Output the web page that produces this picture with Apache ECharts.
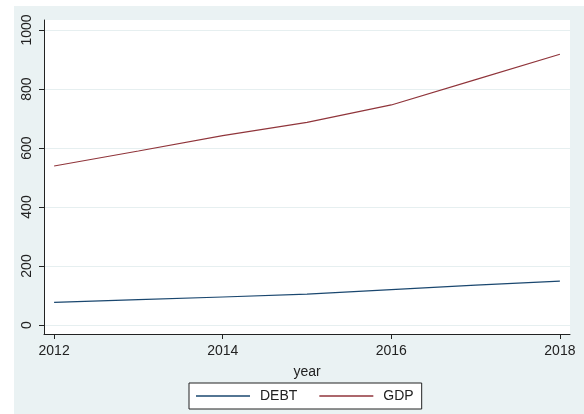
<!DOCTYPE html>
<html>
<head>
<meta charset="utf-8">
<script src="https://cdn.jsdelivr.net/npm/echarts@6/dist/echarts.min.js"></script>
<style>
html,body{margin:0;padding:0;background:#fff;width:584px;height:414px;overflow:hidden;}
#c{position:absolute;left:14px;top:6px;width:570px;height:408px;}
</style>
</head>
<body>
<div id="c"></div>
<script>
const years = [2012, 2013, 2014, 2015, 2016, 2017, 2018];
const debt = [77, 86, 95, 105, 120, 135, 149];
const gdp = [539, 590, 642, 687, 746, 832, 918];
const xTicks = [2012, 2014, 2016, 2018];
const yTicks = [0, 200, 400, 600, 800, 1000];

const chart = echarts.init(document.getElementById('c'), null, {renderer: 'canvas'});
const font = 'Liberation Sans, Arial, Helvetica, sans-serif';
chart.setOption({
  backgroundColor: '#EAF2F3',
  animation: false,
  textStyle: {fontFamily: font},
  grid: {left: 30, top: 14, right: 14, bottom: 80, show: true, backgroundColor: '#ffffff', borderWidth: 0, containLabel: false},
  xAxis: {
    type: 'value', min: 2011.88, max: 2018.12,
    name: 'year', nameLocation: 'middle', nameGap: 31,
    nameTextStyle: {fontSize: 14, color: '#222', fontFamily: font},
    axisLine: {show: true, onZero: false, lineStyle: {color: '#222', width: 1}},
    axisTick: {show: true, length: 5, customValues: xTicks, lineStyle: {color: '#222'}},
    axisLabel: {customValues: xTicks, fontSize: 14, color: '#222', margin: 10, fontFamily: font, formatter: v => String(v)},
    splitLine: {show: false}
  },
  yAxis: {
    type: 'value', min: -30.5, max: 1034,
    axisLine: {show: true, onZero: false, lineStyle: {color: '#222', width: 1}},
    axisTick: {show: true, length: 5, customValues: yTicks, lineStyle: {color: '#222'}},
    axisLabel: {customValues: yTicks, rotate: 90, fontSize: 14, color: '#222', margin: 10, fontFamily: font, formatter: v => String(v)},
    splitLine: {show: true, lineStyle: {color: '#E6EFF0', width: 1}}
  },
  legend: {
    left: 175, top: 377, orient: 'horizontal',
    backgroundColor: '#fff', borderColor: '#222', borderWidth: 1, borderRadius: 0,
    padding: [6, 8, 6, 7], itemWidth: 54, itemHeight: 1.4, itemGap: 22, icon: 'rect',
    textStyle: {fontSize: 14, color: '#222', fontFamily: font, padding: [0, 0, 0, 5]},
    data: ['DEBT', 'GDP']
  },
  series: [
    {name: 'DEBT', type: 'line', data: years.map((y, i) => [y, debt[i]]), showSymbol: false, symbol: 'none',
     lineStyle: {color: '#1a476f', width: 1.2}, itemStyle: {color: '#1a476f'}},
    {name: 'GDP', type: 'line', data: years.map((y, i) => [y, gdp[i]]), showSymbol: false, symbol: 'none',
     lineStyle: {color: '#90353b', width: 1.2}, itemStyle: {color: '#90353b'}}
  ]
});
</script>
</body>
</html>
